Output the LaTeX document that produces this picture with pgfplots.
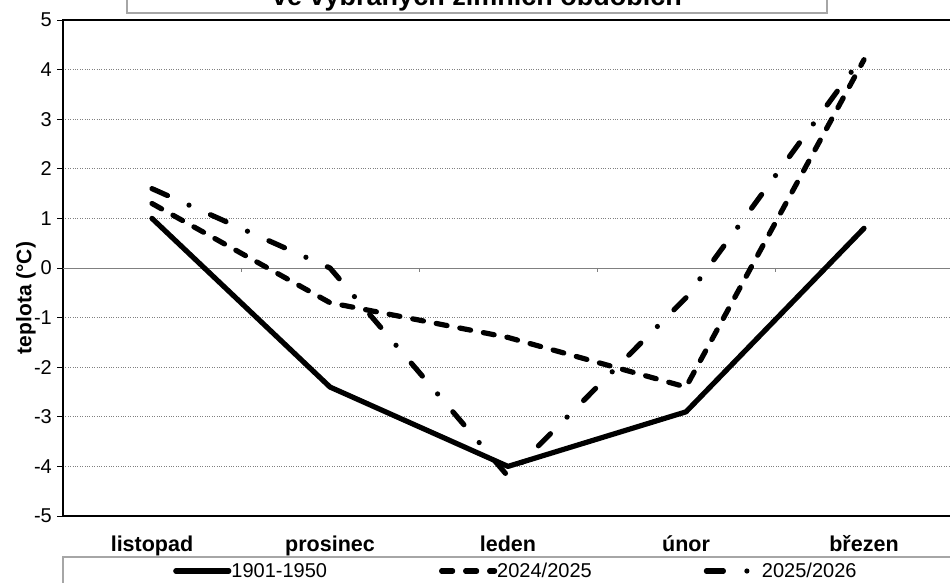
\documentclass[border=0pt]{standalone}
\usepackage{fontspec}
\setmainfont{Liberation Sans}
\usepackage{pgfplots}
\pgfplotsset{compat=1.18}

\begin{document}
\begin{tikzpicture}[x=1pt,y=1pt]
\useasboundingbox (0,0) rectangle (950,582);
\clip (0,0) rectangle (950,582);
% title box, its upper part lies outside the picture
\draw[gray!70, line width=1.2pt] (127,569) rectangle (827,620);
\node[anchor=base, font=\fontsize{27}{30}\selectfont\bfseries] at (477,576) {ve vybraných zimních obdobích};

\begin{axis}[
  at={(63pt,66pt)}, anchor=south west,
  scale only axis, width=890pt, height=496pt,
  xmin=-0.5, xmax=4.5, ymin=-5, ymax=5,
  xtick={0,...,4},
  xticklabels={listopad,prosinec,leden,únor,březen},
  x tick style={draw=none},
  xticklabel style={font=\fontsize{21.5}{24}\selectfont\bfseries, anchor=base, yshift=-29pt},
  ytick={-5,...,5},
  yticklabels={-5,-4,-3,-2,-1,0,1,2,3,4,5},
  ytick pos=left, tick align=outside, major tick length=6pt,
  y tick style={black, line width=0.8pt},
  yticklabel style={font=\fontsize{20}{24}\selectfont, anchor=east, inner sep=0pt, xshift=-5pt},
  ymajorgrids,
  major grid style={gray, dotted, line width=0.9pt},
  axis line style={black, line width=1.6pt},
  legend columns=3,
  legend style={at={(0.1236,-0.1109)}, anchor=west, draw=none, fill=none,
    inner sep=0pt, nodes={inner sep=0pt, font=\fontsize{20}{24}\selectfont},
    /tikz/every odd column/.append style={column sep=0pt},
    /tikz/every even column/.append style={column sep=112pt}},
  legend image code/.code={\draw[#1] (0pt,0pt) -- (53pt,0pt);},
  serie/.style={black, no marks, line width=5.2pt, line cap=round, line join=round},
]
% category axis at zero with its small ticks
\draw[gray, line width=0.8pt] (axis cs:-0.5,0) -- (axis cs:4.5,0);
\pgfplotsinvokeforeach{0.5,1.5,2.5,3.5}{
  \draw[gray, line width=0.8pt] (axis cs:#1,0) -- ++(0pt,-4pt);
}
\addplot[serie, solid] coordinates {(0,1.0) (1,-2.4) (2,-4.0) (3,-2.9) (4,0.8)};
\addlegendentry{1901-1950}
\addplot[serie, dash pattern=on 11pt off 13pt] coordinates {(0,1.3) (1,-0.7) (2,-1.4) (3,-2.4) (4,4.2)};
\addlegendentry{2024/2025}
\addplot[serie, dash pattern=on 17pt off 23.5pt on 0pt off 23.5pt] coordinates {(0,1.6) (1,0.0) (2,-4.2) (3,-0.6) (4,4.3)};
\addlegendentry{2025/2026}
\end{axis}

\node[rotate=90, font=\fontsize{21}{24}\selectfont\bfseries] at (26,284) {teplota (°C)};
% legend frame
\draw[gray!70, line width=1.2pt] (63,-20) rectangle (980,25);
\end{tikzpicture}
\end{document}
